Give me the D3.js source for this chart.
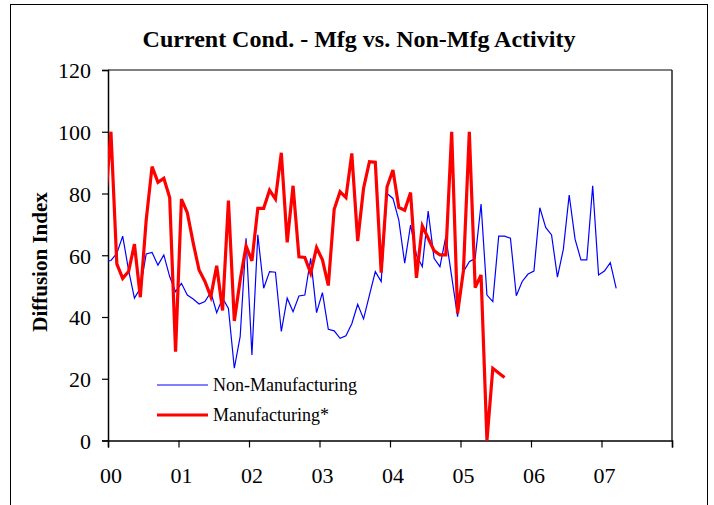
<!DOCTYPE html>
<html>
<head>
<meta charset="utf-8">
<script src="https://cdn.jsdelivr.net/npm/d3@7"></script>
<style>
  html, body { margin: 0; padding: 0; background: #fff; }
  svg { display: block; }
  text { font-family: "Liberation Serif", "Times New Roman", serif; fill: #000; }
</style>
</head>
<body>
<svg id="chart" width="714" height="505"></svg>
<script>
// Months are counted from Jan 2000 (index 0); both series start at Dec 1999 (index -1)
const firstMonthIndex = -1;
const nonMfg = [58, 58.3, 60.6, 66.2, 55.2, 46.1, 49.3, 60.4, 60.9, 56.8, 60.1, 53.1, 48.2,
  50.9, 47.1, 45.8, 44.2, 45, 48, 41.4, 46.1, 42.8, 23.4, 33.7, 65.5,
  27.7, 66.6, 49.3, 54.7, 54.5, 35.3, 46.1, 41.7, 46.8, 47.1, 59, 41.4,
  47.9, 36, 35.5, 33.1, 33.9, 37.8, 44.1, 39.4, 47.1, 54.7, 51.5, 80,
  78.4, 71.4, 57.4, 69.8, 60.1, 56.3, 74.3, 59, 56.3, 66, 53.1, 40.1,
  54.7, 57.9, 59, 76.6, 47.1, 45, 66.2, 66.2, 65.5, 46.9, 51.5, 53.9,
  54.9, 75.4, 69, 66.6, 52.9, 61.9, 79.5, 65.2, 58.5, 58.5, 82.5, 53.6,
  54.9, 57.6, 49.3];
const mfg = [76, 100, 57.2, 52.5, 54.7, 63.6, 46.4, 71.4, 88.7, 83.6, 84.9, 78.7, 28.8,
  78.2, 73.8, 64, 55.2, 51.5, 46.6, 56.6, 42.1, 77.7, 38.7, 52, 63,
  58.2, 75.2, 75.2, 81.1, 78.2, 93.2, 64.2, 82.5, 59.5, 59.3, 54.2, 62.5,
  58.5, 50.2, 74.9, 80.6, 78.7, 93, 64.6, 81.7, 90.3, 90.1, 54.4, 82.2,
  87.6, 75.5, 74.6, 80.3, 52.7, 69.5, 65.5, 61.5, 60.1, 60.1, 100, 41.2,
  55, 100, 49.5, 53.6, 0, 23.4, 21.9, 20.4];
const yearLabels = ["00", "01", "02", "03", "04", "05", "06", "07", ""];
const yTicks = [0, 20, 40, 60, 80, 100, 120];
const seriesNames = ["Non-Manufacturing", "Manufacturing*"];
const seriesColors = ["#0000ff", "#ff0000"];

const svg = d3.select("#chart");
const L = 108, R = 672, T = 70, B = 440.5;

const x = d3.scaleLinear().domain([0, 96]).range([L, R]);
const y = d3.scaleLinear().domain([0, 120]).range([B, T]);

// outer frame
svg.append("rect").attr("x", 10.5).attr("y", 4.5).attr("width", 697).attr("height", 520)
  .attr("fill", "none").attr("stroke", "#000").attr("stroke-width", 1);

// title
svg.append("text").attr("x", 359).attr("y", 46.5).attr("text-anchor", "middle")
  .style("font-size", "24px").style("font-weight", "bold")
  .text("Current Cond. - Mfg vs. Non-Mfg Activity");

// plot frame: top (gray) and right
svg.append("line").attr("x1", L).attr("x2", R).attr("y1", T).attr("y2", T)
  .attr("stroke", "#808080").attr("stroke-width", 2);
svg.append("line").attr("x1", R).attr("x2", R).attr("y1", T).attr("y2", B)
  .attr("stroke", "#222").attr("stroke-width", 1.5);

// clip
svg.append("clipPath").attr("id", "clip").append("rect")
  .attr("x", L).attr("y", T - 5).attr("width", R - L).attr("height", B - T + 10);

// y axis
const yAxis = d3.axisLeft(y).tickValues(yTicks).tickSize(6).tickPadding(11).tickFormat(d3.format("d"));
const gy = svg.append("g").attr("transform", `translate(${L},0)`).call(yAxis);
gy.select(".domain").attr("stroke", "#000").attr("stroke-width", 1.5);
gy.selectAll(".tick line").attr("stroke", "#000").attr("stroke-width", 1.2);
gy.selectAll(".tick text").style("font-size", "22px").style("font-family", "Liberation Serif, serif")
  .attr("dy", "0.36em");

// x axis
const xAxis = d3.axisBottom(x).tickValues(d3.range(0, 97, 12)).tickSize(7).tickPadding(20)
  .tickFormat((d, i) => yearLabels[i]);
const gx = svg.append("g").attr("transform", `translate(0,${B})`).call(xAxis);
gx.select(".domain").attr("stroke", "#000").attr("stroke-width", 1.5);
gx.selectAll(".tick line").attr("stroke", "#000").attr("stroke-width", 1.2);
gx.selectAll(".tick text").style("font-size", "22px").style("font-family", "Liberation Serif, serif")
  .attr("dx", "2.5");

// y label
svg.append("text").attr("transform", "translate(47,262) rotate(-90)").attr("text-anchor", "middle")
  .style("font-size", "21px").style("font-weight", "bold").text("Diffusion Index");

// lines
const line = d3.line().x(d => x(d.m + 0.5)).y(d => y(d.v));
const toPts = arr => arr.map((v, i) => ({ m: firstMonthIndex + i, v }));
const gLines = svg.append("g").attr("clip-path", "url(#clip)");
gLines.append("path").datum(toPts(nonMfg)).attr("d", line)
  .attr("fill", "none").attr("stroke", seriesColors[0]).attr("stroke-width", 1.2)
  .attr("stroke-linejoin", "miter");
gLines.append("path").datum(toPts(mfg)).attr("d", line)
  .attr("fill", "none").attr("stroke", seriesColors[1]).attr("stroke-width", 3.2)
  .attr("stroke-linejoin", "miter");

// legend
const leg = svg.append("g");
[385, 415].forEach((ly, i) => {
  leg.append("line").attr("x1", 157).attr("x2", 208).attr("y1", ly).attr("y2", ly)
    .attr("stroke", seriesColors[i]).attr("stroke-width", i === 0 ? 1.2 : 3.2);
  leg.append("text").attr("x", 213).attr("y", ly + 6).style("font-size", "18px")
    .text(seriesNames[i]);
});
</script>
</body>
</html>
